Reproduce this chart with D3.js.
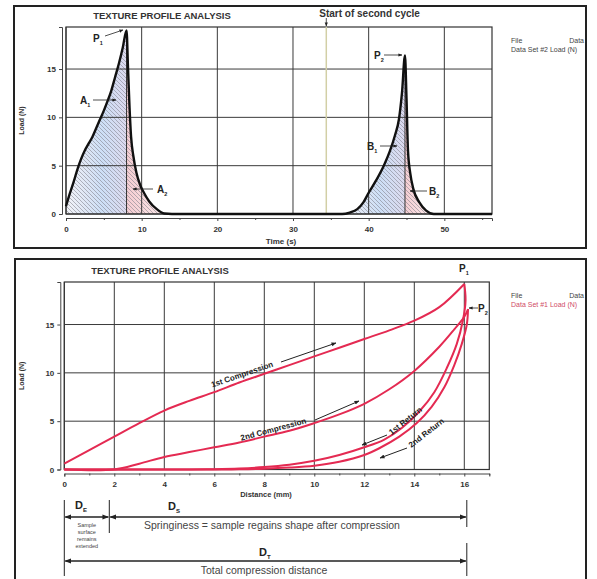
<!DOCTYPE html>
<html>
<head>
<meta charset="utf-8">
<script src="https://cdn.jsdelivr.net/npm/d3@7"></script>
<style>
  body { margin: 0; background: #fff; }
  svg { font-family: "Liberation Sans", Arial, sans-serif; }
</style>
</head>
<body>
<div id="chart"></div>
<script>
// ---- top panel: load vs time (two compression cycles)
const cycleTime = [0, 0.5, 1, 1.5, 2, 2.5, 3, 3.5, 4, 4.5, 5, 5.5, 6, 6.5, 7, 7.5, 8,
  8.2, 8.4, 8.6, 8.9, 9.3, 9.8, 10.3, 11, 12, 13, 14, 20, 30, 36.5,
  37.5, 38.5, 39.3, 40, 41, 42, 42.8, 43.5, 44, 44.4, 44.8,
  45.0, 45.2, 45.5, 45.9, 46.7, 47.6, 48.6, 56.3];
const cycleLoad = [0.8, 2.1, 3.3, 4.6, 5.7, 6.6, 7.3, 8.0, 8.9, 9.8, 10.7, 11.7, 12.8, 14.2, 15.6, 17.2, 19.0,
  15.0, 11.0, 8.0, 6.0, 4.3, 3.0, 2.2, 1.3, 0.5, 0.05, 0, 0, 0, 0,
  0.15, 0.5, 1.2, 2.2, 3.5, 5.0, 6.5, 8.2, 9.8, 12.5, 16.4,
  12.0, 6.5, 4.2, 2.6, 1.2, 0.35, 0, 0];
const firstPeakTime = 8, secondPeakTime = 44.8;
const firstEndTime = 14, secondStartTime = 36.5, secondEndTime = 48.6;
const secondCycleStart = 34.4;
const timeTicks = [0, 10, 20, 30, 40, 50];
const timeMinorTicks = [5, 15, 25, 35, 45, 55];
const loadTicks = [0, 5, 10, 15];

// ---- bottom panel: load vs distance
const comp1Dist = [0, 1, 2, 3, 4, 5, 6, 7, 8, 9, 10, 11, 12, 13, 14, 15, 16];
const comp1Load = [0.6, 2.0, 3.4, 4.8, 6.1, 7.1, 8.0, 9.0, 9.9, 10.8, 11.7, 12.6, 13.5, 14.4, 15.4, 16.8, 19.2];
const comp2Dist = [0, 2, 3, 4, 5, 6, 7, 8, 9, 10, 11, 12, 13, 14, 15, 15.6, 16, 16.15];
const comp2Load = [0, 0, 0.6, 1.3, 1.8, 2.3, 2.8, 3.4, 4.0, 4.8, 5.7, 6.8, 8.3, 10.2, 12.7, 14.5, 15.8, 16.6];
const ret1Dist = [16.0, 16.05, 15.95, 15.7, 15.3, 14.8, 14.2, 13.5, 12.8, 12, 11, 10, 9, 8, 7, 6, 5, 0];
const ret1Load = [19.2, 17.5, 15.5, 13.0, 10.5, 8.0, 6.0, 4.3, 3.1, 2.3, 1.5, 0.9, 0.5, 0.25, 0.1, 0.03, 0, 0];
const ret2Dist = [16.15, 16.1, 15.9, 15.6, 15.2, 14.7, 14.1, 13.4, 12.6, 12, 11, 10, 9, 8, 7, 6, 0];
const ret2Load = [16.6, 15.0, 13.0, 10.8, 8.5, 6.5, 4.8, 3.4, 2.2, 1.5, 0.8, 0.4, 0.2, 0.08, 0.02, 0, 0];
const distTicks = [0, 2, 4, 6, 8, 10, 12, 14, 16];
const distMinorTicks = [1, 3, 5, 7, 9, 11, 13, 15, 17];
const distMarks = [0, 1.8, 16.1];   // D_E end / D_S start, total end

const W = 597, H = 579;
const svg = d3.select("#chart").append("svg").attr("width", W).attr("height", H);
const defs = svg.append("defs");

// tinted backgrounds + hatch lines
function gradient(id, stops) {
  const g = defs.append("linearGradient").attr("id", id).attr("x1", 0).attr("x2", 1).attr("y1", 0).attr("y2", 0);
  stops.forEach(([o, c]) => g.append("stop").attr("offset", o).attr("stop-color", c));
}
gradient("tintBlue", [[0, "#f3f4f8"], [0.35, "#dde6f5"], [0.6, "#cddff6"], [1, "#dcd9ee"]]);
gradient("tintPink", [[0, "#f5cdd2"], [0.6, "#f9e0e2"], [1, "#fdf4f4"]]);
defs.append("pattern").attr("id", "hatch").attr("patternUnits", "userSpaceOnUse")
  .attr("width", 4).attr("height", 4)
  .append("path").attr("d", "M0,0 L4,4 M-1,3 L1,5 M3,-1 L5,1")
  .attr("stroke", "#7c7c88").attr("stroke-width", 0.55);

function arrowMarker(id, color) {
  defs.append("marker").attr("id", id).attr("viewBox", "0 0 10 10")
    .attr("refX", 9).attr("refY", 5).attr("markerWidth", 5).attr("markerHeight", 5)
    .attr("orient", "auto-start-reverse")
    .append("path").attr("d", "M0,1 L10,5 L0,9 Z").attr("fill", color);
}
arrowMarker("arr", "#222");

// panel frames
svg.append("rect").attr("x", 14).attr("y", 6).attr("width", 572).attr("height", 242)
  .attr("fill", "none").attr("stroke", "#222").attr("stroke-width", 2);
svg.append("rect").attr("x", 15).attr("y", 259).attr("width", 571).attr("height", 325)
  .attr("fill", "none").attr("stroke", "#222").attr("stroke-width", 2);

function subLabel(g, x, y, main, sub, size) {
  const t = g.append("text").attr("x", x).attr("y", y).attr("font-size", size)
    .attr("font-weight", "bold").attr("fill", "#222");
  t.append("tspan").text(main);
  t.append("tspan").attr("font-size", size * 0.55).attr("dy", size * 0.3).text(sub);
  return t;
}
function arrow(g, x1, y1, x2, y2, w) {
  g.append("line").attr("x1", x1).attr("y1", y1).attr("x2", x2).attr("y2", y2)
    .attr("stroke", "#222").attr("stroke-width", w || 1).attr("marker-end", "url(#arr)");
}

function drawFrame(g, x, y, xTicks, xMinor, yTicks) {
  const [x0, x1] = x.range(), [y0, y1] = y.range();
  // grid
  g.append("g").selectAll("line").data(xTicks).join("line")
    .attr("x1", d => x(d)).attr("x2", d => x(d)).attr("y1", y1).attr("y2", y0)
    .attr("stroke", "#3a3a3a").attr("stroke-width", 1);
  g.append("g").selectAll("line").data(yTicks).join("line")
    .attr("x1", x0).attr("x2", x1).attr("y1", d => y(d)).attr("y2", d => y(d))
    .attr("stroke", "#3a3a3a").attr("stroke-width", 1);
  g.append("rect").attr("x", x0).attr("y", y1).attr("width", x1 - x0).attr("height", y0 - y1)
    .attr("fill", "none").attr("stroke", "#333").attr("stroke-width", 1.2);

  // axes, offset from the plot area
  const xa = g.append("g").attr("transform", `translate(0,${y0 + 4})`)
    .call(d3.axisBottom(x).tickValues(xTicks).tickSize(3).tickFormat(d3.format("d")));
  g.append("g").attr("transform", `translate(0,${y0 + 4})`)
    .call(d3.axisBottom(x).tickValues(xMinor.filter(d => d <= x.domain()[1])).tickSize(2).tickFormat(""))
    .call(a => a.select(".domain").remove());
  const ya = g.append("g").attr("transform", `translate(${x0 - 4},0)`)
    .call(d3.axisLeft(y).tickValues(yTicks).tickSize(3));
  [xa, ya].forEach(a => {
    a.selectAll("text").attr("font-size", 8).attr("font-weight", "bold").attr("fill", "#333");
    a.select(".domain").attr("stroke", "#444");
  });
  g.selectAll(".tick line").attr("stroke", "#444");
  xa.selectAll("text").attr("dy", "0.95em");

  g.append("text").attr("transform", `translate(24,${(y0 + y1) / 2}) rotate(-90)`)
    .attr("text-anchor", "middle").attr("font-size", 7).attr("font-weight", "bold")
    .attr("fill", "#333").text("Load (N)");
}

// ================= TOP PANEL =================
const topG = svg.append("g");
const xT = d3.scaleLinear().domain([0, 56.3]).range([66, 492]);
const yT = d3.scaleLinear().domain([0, 19.35]).range([214, 27]);
const cycle = cycleTime.map((t, i) => ({ t, v: cycleLoad[i] }));

const areaT = d3.area().x(d => xT(d.t)).y0(yT(0)).y1(d => yT(d.v)).curve(d3.curveMonotoneX);
const inRange = (a, b) => cycle.filter(d => d.t >= a && d.t <= b);
[[0, firstPeakTime, "tintBlue"], [firstPeakTime, firstEndTime, "tintPink"],
 [secondStartTime, secondPeakTime, "tintBlue"], [secondPeakTime, secondEndTime, "tintPink"]]
  .forEach(([a, b, tint]) => {
    const d = areaT(inRange(a, b));
    topG.append("path").attr("d", d).attr("fill", `url(#${tint})`);
    topG.append("path").attr("d", d).attr("fill", "url(#hatch)");
  });

drawFrame(topG, xT, yT, timeTicks, timeMinorTicks, loadTicks);

// start of second cycle marker
topG.append("line").attr("x1", xT(secondCycleStart)).attr("x2", xT(secondCycleStart))
  .attr("y1", yT.range()[1]).attr("y2", yT(0)).attr("stroke", "#d2cfa6").attr("stroke-width", 1.5);
topG.append("text").attr("x", xT(secondCycleStart) - 7).attr("y", 17).attr("font-size", 10)
  .attr("font-weight", "bold").attr("fill", "#333").text("Start of second cycle");
arrow(topG, xT(secondCycleStart), 18, xT(secondCycleStart), 26, 0.8);

// peak dividers
[firstPeakTime, secondPeakTime].forEach(t => {
  topG.append("line").attr("x1", xT(t)).attr("x2", xT(t)).attr("y1", yT(0))
    .attr("y2", yT(cycleLoad[cycleTime.indexOf(t)])).attr("stroke", "#333").attr("stroke-width", 1);
});

const lineT = d3.line().x(d => xT(d.t)).y(d => yT(d.v)).curve(d3.curveMonotoneX);
topG.append("path").attr("d", lineT(cycle)).attr("fill", "none")
  .attr("stroke", "#111").attr("stroke-width", 2.4).attr("stroke-linejoin", "round");

topG.append("text").attr("x", 162).attr("y", 19).attr("text-anchor", "middle")
  .attr("font-size", 9.5).attr("font-weight", "bold").attr("fill", "#333")
  .text("TEXTURE PROFILE ANALYSIS");
topG.append("text").attr("x", 281).attr("y", 244).attr("text-anchor", "middle")
  .attr("font-size", 8).attr("font-weight", "bold").attr("fill", "#333").text("Time (s)");

subLabel(topG, 93, 42, "P", "1", 10);
arrow(topG, 105, 36, 123, 30, 0.8);
subLabel(topG, 80, 104, "A", "1", 10);
arrow(topG, 93, 100, 116, 100, 0.8);
subLabel(topG, 157, 193, "A", "2", 10);
arrow(topG, 153, 189, 133, 189, 0.8);
subLabel(topG, 374, 59, "P", "2", 10);
arrow(topG, 384, 55, 402, 55, 0.8);
subLabel(topG, 367, 150, "B", "1", 10);
arrow(topG, 380, 146, 397, 146, 0.8);
subLabel(topG, 429, 195, "B", "2", 10);
arrow(topG, 427, 191, 410, 191, 0.8);

// legend
topG.append("text").attr("x", 511).attr("y", 43).attr("font-size", 7).attr("fill", "#444").text("File");
topG.append("text").attr("x", 584).attr("y", 43).attr("text-anchor", "end").attr("font-size", 7).attr("fill", "#444").text("Data");
topG.append("text").attr("x", 511).attr("y", 52).attr("font-size", 7).attr("fill", "#444").text("Data Set #2 Load (N)");

// ================= BOTTOM PANEL =================
const bot = svg.append("g");
const xB = d3.scaleLinear().domain([0, 17]).range([64.3, 489.3]);
const yB = d3.scaleLinear().domain([0, 19.4]).range([469.5, 282]);
drawFrame(bot, xB, yB, distTicks, distMinorTicks, loadTicks);

const red = "#e42a52";
const lineB = d3.line().x(d => xB(d[0])).y(d => yB(d[1])).curve(d3.curveCatmullRom.alpha(0.5));
const zip = (a, b) => a.map((v, i) => [v, b[i]]);
[[ret2Dist, ret2Load], [ret1Dist, ret1Load], [comp2Dist, comp2Load], [comp1Dist, comp1Load]].forEach(([a, b]) => {
  bot.append("path").attr("d", lineB(zip(a, b))).attr("fill", "none")
    .attr("stroke", red).attr("stroke-width", 2).attr("stroke-linejoin", "round");
});

bot.append("text").attr("x", 160).attr("y", 274).attr("text-anchor", "middle")
  .attr("font-size", 9.5).attr("font-weight", "bold").attr("fill", "#333")
  .text("TEXTURE PROFILE ANALYSIS");
bot.append("text").attr("x", 266).attr("y", 497).attr("text-anchor", "middle")
  .attr("font-size", 7.5).attr("font-weight", "bold").attr("fill", "#333").text("Distance (mm)");

function curveText(x, y, ang, txt) {
  bot.append("text").attr("transform", `translate(${x},${y}) rotate(${ang})`)
    .attr("text-anchor", "middle").attr("font-size", 8).attr("font-weight", "bold")
    .attr("fill", "#222").text(txt);
}
curveText(243, 377, -19, "1st Compression");
arrow(bot, 281, 362, 336, 343, 1);
curveText(274, 432, -15, "2nd Compression");
arrow(bot, 315, 420, 359, 401, 1);
curveText(407, 423, -38, "1st Return");
arrow(bot, 387, 435, 362, 445, 1);
curveText(428, 435, -38, "2nd Return");
arrow(bot, 407, 448, 380, 458, 1);

subLabel(bot, 459, 272, "P", "1", 10);
subLabel(bot, 478, 312, "P", "2", 10);
arrow(bot, 478, 308, 469, 308, 0.8);

bot.append("text").attr("x", 511).attr("y", 298).attr("font-size", 7).attr("fill", "#444").text("File");
bot.append("text").attr("x", 584).attr("y", 298).attr("text-anchor", "end").attr("font-size", 7).attr("fill", "#444").text("Data");
bot.append("text").attr("x", 511).attr("y", 307).attr("font-size", 7).attr("fill", "#d04a66").text("Data Set #1 Load (N)");

// distance annotations
const [dA, dB, dC] = distMarks.map(xB);
const vline = (x, y1, y2) => bot.append("line").attr("x1", x).attr("x2", x).attr("y1", y1).attr("y2", y2)
  .attr("stroke", "#222").attr("stroke-width", 1);
vline(dA, 500, 576);
vline(dB, 500, 533);
vline(dC, 500, 527);
vline(dC, 543, 576);
const dbl = (x1, x2, y) => bot.append("line").attr("x1", x1 + 1).attr("x2", x2 - 1).attr("y1", y).attr("y2", y)
  .attr("stroke", "#222").attr("stroke-width", 1.3)
  .attr("marker-start", "url(#arr)").attr("marker-end", "url(#arr)");
dbl(dA, dB, 517);
dbl(dB, dC, 517);
dbl(dA, dC, 561);

subLabel(bot, 75, 509, "D", "E", 11);
subLabel(bot, 168, 510, "D", "S", 11);
subLabel(bot, 259, 556, "D", "T", 11);
["Sample", "surface", "remains", "extended"].forEach((w, i) => {
  bot.append("text").attr("x", (dA + dB) / 2).attr("y", 527 + i * 7).attr("text-anchor", "middle")
    .attr("font-size", 5.5).attr("fill", "#444").text(w);
});
bot.append("text").attr("x", 272).attr("y", 529).attr("text-anchor", "middle")
  .attr("font-size", 10.5).attr("fill", "#444").text("Springiness = sample regains shape after compression");
bot.append("text").attr("x", 264).attr("y", 574).attr("text-anchor", "middle")
  .attr("font-size", 10.5).attr("fill", "#444").text("Total compression distance");
</script>
</body>
</html>
